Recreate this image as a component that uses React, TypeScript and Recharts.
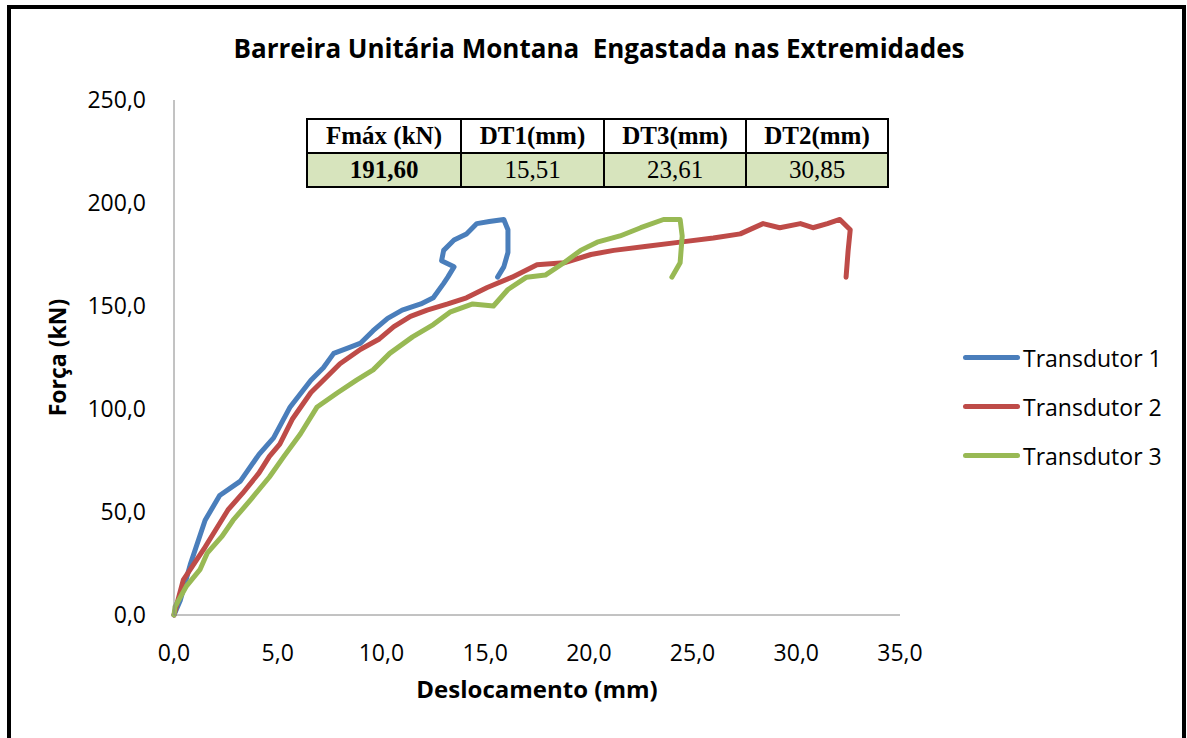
import { LineChart, Line, XAxis, YAxis } from "recharts";

// leituras aproximadas do gráfico (deslocamento mm, força kN)
const t1X = [0, 0.3, 0.8, 1.5, 2.2, 3.2, 4.1, 4.8, 5.6, 6.6, 7.2, 7.7, 8.5, 9.0, 9.6, 10.3, 11.0, 11.9, 12.5, 13.0, 13.2, 13.5, 12.9, 13.0, 13.5, 14.1, 14.6, 15.2, 15.9, 16.1, 16.1, 15.9, 15.6];
const t1Y = [0, 7, 25, 46, 58, 65, 78, 86, 101, 114, 120, 127, 130, 132, 138, 144, 148, 151, 154, 161, 164, 169, 172, 177, 182, 185, 190, 191, 192, 187, 176, 169, 164];

const t2X = [0, 0.45, 1.5, 2.6, 3.3, 4.1, 4.6, 5.1, 5.7, 6.6, 7.2, 8.0, 9.0, 9.9, 10.6, 11.4, 12.2, 13.2, 14.1, 15.1, 16.3, 17.5, 18.8, 20.1, 21.2, 22.8, 24.4, 26.0, 27.3, 28.4, 29.2, 30.2, 30.8, 31.5, 32.1, 32.6, 32.5, 32.4];
const t2Y = [0, 17, 33, 51, 59, 69, 77, 83, 95, 108, 114, 122, 129, 134, 140, 145, 148, 151, 154, 159, 164, 170, 171, 175, 177, 179, 181, 183, 185, 190, 188, 190, 188, 190, 192, 187, 177, 164];

const t3X = [0, 0.05, 0.6, 1.25, 1.6, 2.3, 2.85, 3.7, 4.6, 5.3, 6.1, 6.9, 7.9, 8.8, 9.6, 10.4, 11.5, 12.5, 13.3, 14.4, 15.4, 16.1, 17.0, 17.9, 18.8, 19.6, 20.4, 21.5, 22.5, 23.6, 24.4, 24.5, 24.4, 24.0];
const t3Y = [0, 4, 14, 22, 30, 38, 46, 56, 67, 77, 88, 101, 108, 114, 119, 127, 135, 141, 147, 151, 150, 158, 164, 165, 171, 177, 181, 184, 188, 192, 192, 184, 171, 164];

const xTicks = [0, 5, 10, 15, 20, 25, 30, 35];
const yTicks = [0, 50, 100, 150, 200, 250];

const tableHead = ["Fmáx (kN)", "DT1(mm)", "DT3(mm)", "DT2(mm)"];
const tableVals = ["191,60", "15,51", "23,61", "30,85"];

const series = [
  { name: "Transdutor 1", color: "#4A7EBB", data: t1X.map((x, i) => ({ x, y: t1Y[i] })) },
  { name: "Transdutor 2", color: "#BE4B48", data: t2X.map((x, i) => ({ x, y: t2Y[i] })) },
  { name: "Transdutor 3", color: "#98B954", data: t3X.map((x, i) => ({ x, y: t3Y[i] })) },
];

const fmt = (v: number) => v.toFixed(1).replace(".", ",");
const font = "'Open Sans', sans-serif";

export default function App() {
  const cell = (w: number, bold: boolean, bg: string) => ({
    width: w,
    height: 32,
    border: "2px solid #000",
    background: bg,
    fontFamily: "'Liberation Serif', 'Times New Roman', serif",
    fontSize: 25,
    fontWeight: bold ? 700 : 400,
    textAlign: "center" as const,
    padding: 0,
    lineHeight: "30px",
  });
  const widths = [152, 141, 140, 140];
  return (
    <div style={{ position: "absolute", left: 0, top: 0, width: 1187, height: 738, background: "#fff", overflow: "hidden" }}>
      <div style={{ position: "absolute", left: 7, top: 5, width: 1171, height: 760, border: "4px solid #000" }} />
      <div
        style={{
          position: "absolute",
          left: 0,
          width: 1198,
          top: 30,
          textAlign: "center",
          fontFamily: font,
          fontWeight: 700,
          fontSize: 26,
        }}
      >
        Barreira Unitária Montana&nbsp;&nbsp;Engastada nas Extremidades
      </div>
      <div style={{ position: "absolute", left: 0, top: 0 }}>
        <LineChart width={1187} height={738} margin={{ top: 100, right: 287, bottom: 0, left: 0 }}>
          <XAxis
            type="number"
            dataKey="x"
            domain={[0, 35]}
            ticks={xTicks}
            tickFormatter={fmt}
            stroke="#868686"
            tickLine={false}
            tick={{ fill: "#000", fontSize: 23, fontFamily: font }}
            tickMargin={24}
            height={123}
            label={{ value: "Deslocamento (mm)", position: "insideTop", offset: 66, style: { fontFamily: font, fontWeight: 700, fontSize: 24, fill: "#000" } }}
          />
          <YAxis
            type="number"
            dataKey="y"
            domain={[0, 250]}
            ticks={yTicks}
            tickFormatter={fmt}
            stroke="#868686"
            tickLine={false}
            width={174}
            tick={{ fill: "#000", fontSize: 23, fontFamily: font }}
            tickMargin={22}
            label={{ value: "Força (kN)", angle: -90, position: "insideLeft", offset: 58, style: { fontFamily: font, fontWeight: 700, fontSize: 23, fill: "#000", textAnchor: "middle" } }}
          />
          {series.map((s) => (
            <Line
              key={s.name}
              data={s.data}
              dataKey="y"
              name={s.name}
              stroke={s.color}
              strokeWidth={5}
              dot={false}
              type="linear"
              strokeLinejoin="round"
              strokeLinecap="round"
              isAnimationActive={false}
            />
          ))}
        </LineChart>
      </div>
      <div style={{ position: "absolute", left: 963, top: 333, fontFamily: font, fontSize: 23, color: "#000" }}>
        {series.map((s) => (
          <div key={s.name} style={{ display: "flex", alignItems: "center", height: 49 }}>
            <div style={{ width: 57, height: 5, borderRadius: 3, background: s.color, marginRight: 3 }} />
            <span>{s.name}</span>
          </div>
        ))}
      </div>
      <table style={{ position: "absolute", left: 306, top: 118, borderCollapse: "collapse" }}>
        <tbody>
          <tr>
            {tableHead.map((h, i) => (
              <td key={h} style={cell(widths[i], true, "#fff")}>{h}</td>
            ))}
          </tr>
          <tr>
            {tableVals.map((v, i) => (
              <td key={v} style={cell(widths[i], i === 0, "#D7E4BD")}>{v}</td>
            ))}
          </tr>
        </tbody>
      </table>
    </div>
  );
}
